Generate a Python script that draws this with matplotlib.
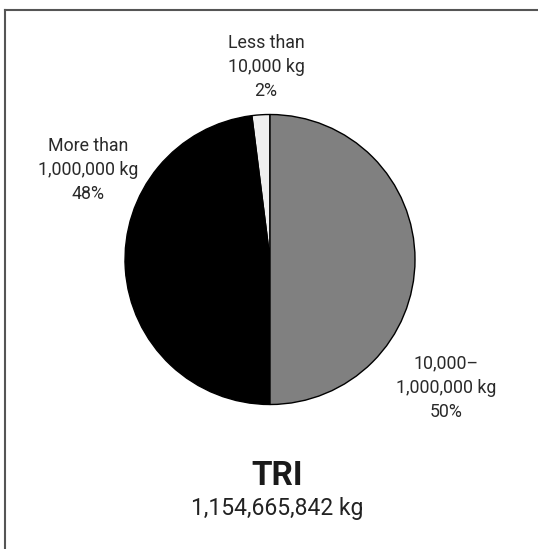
import matplotlib
matplotlib.use("Agg")
import matplotlib.pyplot as plt
from matplotlib.lines import Line2D

# slice data, counter-clockwise from 12 o'clock
labels = ["Less than\n10,000 kg", "More than\n1,000,000 kg", "10,000\u2013\n1,000,000 kg"]
shares = [2, 48, 50]
colors = ["#efefef", "#000000", "#808080"]
title = "TRI"
total = "1,154,665,842 kg"

plt.rcParams['font.family'] = ['Roboto', 'DejaVu Sans']

W, H = 538, 549
fig = plt.figure(figsize=(W / 100, H / 100), dpi=100)

# pie placed in pixel terms: centre (270, 259), radius 145
cx, cy, r = 270, 259.5, 145
ax = fig.add_axes([(cx - r) / W, (H - cy - r) / H, 2 * r / W, 2 * r / H])
ax.pie(shares, colors=colors, startangle=90, counterclock=True,
       wedgeprops=dict(edgecolor='black', linewidth=1.0))
ax.set_xlim(-1, 1)
ax.set_ylim(-1, 1)
ax.set_aspect('auto')
ax.axis('off')

txt = dict(ha='center', va='center', color='#2a2a2a', fontsize=12.8, linespacing=1.44,
           fontstretch='condensed')
label_pos = [(266, 67), (88, 170), (446, 388)]
for (lab, pct, (x, y)) in zip(labels, shares, label_pos):
    fig.text(x / W, 1 - y / H, f"{lab}\n{pct}%", **txt)

fig.text(277 / W, 1 - 476 / H, title, ha='center', va='center',
         fontsize=24, fontweight='bold', color='#1a1a1a', fontstretch='condensed')
fig.text(277 / W, 1 - 508 / H, total, ha='center', va='center',
         fontsize=16.5, color='#222222', fontstretch='condensed')

# frame: top and left edges only
fig.add_artist(Line2D([5 / W, 1], [1 - 10 / H, 1 - 10 / H], color='#555555', lw=1.5))
fig.add_artist(Line2D([5 / W, 5 / W], [0, 1 - 10 / H], color='#555555', lw=1.5))

fig.savefig("out.png", dpi=100, facecolor='white')
